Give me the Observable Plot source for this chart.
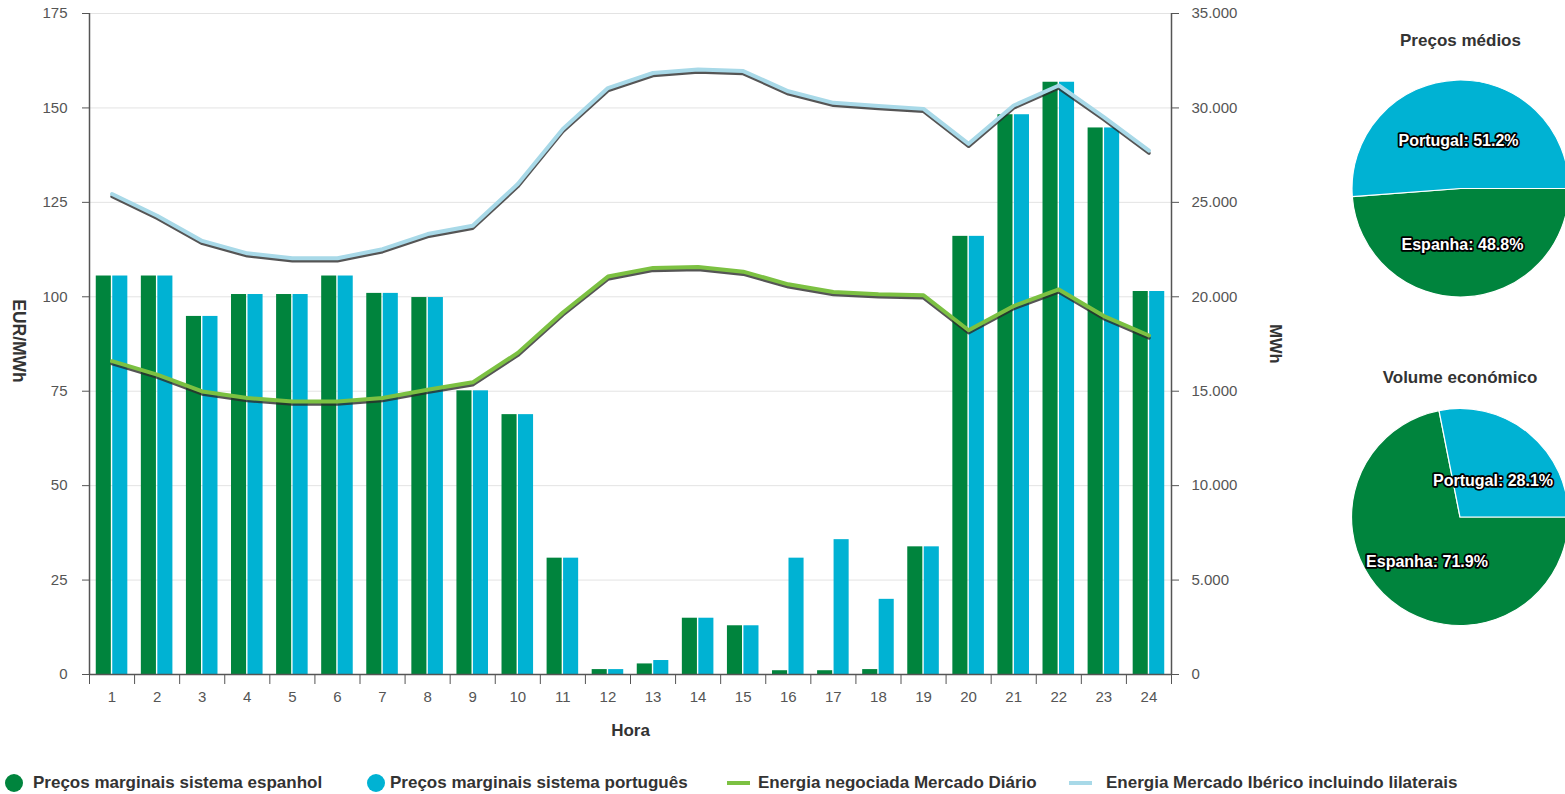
<!DOCTYPE html>
<html><head><meta charset="utf-8">
<script src="https://cdn.jsdelivr.net/npm/d3@7"></script>
<script src="https://cdn.jsdelivr.net/npm/@observablehq/plot@0.6"></script>
<style>
body{margin:0;background:#fff;font-family:"Liberation Sans",Arial,sans-serif;}
#wrap{position:relative;width:1565px;height:794px;overflow:hidden;background:#fff;}
#main{position:absolute;left:0;top:0;}
#pies{position:absolute;left:1300px;top:0;}
#legend{position:absolute;left:0;top:772px;height:22px;width:1565px;font:bold 17px "Liberation Sans",Arial,sans-serif;color:#333;}
.item{position:absolute;top:0;height:22px;display:flex;align-items:center;white-space:nowrap;}
.dot{width:18px;height:18px;border-radius:50%;}
.ln{width:23px;height:4px;}
.item:nth-child(1){left:5px;}
.item:nth-child(1) span{margin-left:10px;}
.item:nth-child(2){left:367px;}
.item:nth-child(2) span{margin-left:5px;}
.item:nth-child(3){left:727px;}
.item:nth-child(3) span{margin-left:8px;}
.item:nth-child(4){left:1069px;}
.item:nth-child(4) span{margin-left:14px;}
</style></head>
<body>
<div id="wrap">
  <div id="main"></div>
  <div id="pies"></div>
  <div id="legend"></div>
</div>
<script>
// ---------- data ----------
const hours = [1,2,3,4,5,6,7,8,9,10,11,12,13,14,15,16,17,18,19,20,21,22,23,24];
const precoEspanha = [105.5,105.5,94.8,100.6,100.6,105.5,100.9,99.8,75.1,68.8,30.8,1.3,2.8,14.9,12.9,1.0,1.0,1.3,33.8,116.0,148.2,156.8,144.7,101.4];
const precoPortugal = [105.5,105.5,94.8,100.6,100.6,105.5,100.9,99.8,75.1,68.8,30.8,1.3,3.7,14.9,12.9,30.8,35.7,19.9,33.8,116.0,148.2,156.8,144.7,101.4];
const energiaDiario = [16590,15880,14990,14640,14460,14460,14640,15080,15470,17030,19170,21070,21530,21580,21330,20660,20250,20130,20080,18230,19510,20390,18980,17950];
const energiaIberico = [25440,24290,22960,22300,22040,22040,22520,23320,23760,25970,28890,31050,31850,32040,31950,30880,30270,30100,29950,28100,30130,31190,29510,27740];
const leftTicks = [0,25,50,75,100,125,150,175];
const rightMax = 35000;
const leftMax = 175;

const pieCategories = ["Espanha","Portugal"];
const precosMedios = [48.8, 51.2];
const volumeEconomico = [71.9, 28.1];

const seriesNames = ["Preços marginais sistema espanhol","Preços marginais sistema português","Energia negociada Mercado Diário","Energia Mercado Ibérico incluindo lilaterais"];
const seriesColors = ["#00843d","#00b2d3","#7cc142","#a8d9e8"];
const seriesKinds = ["dot","dot","ln","ln"];

// ---------- main chart ----------
const K = rightMax/leftMax;
const rows = hours.map((h,i)=>({hora:h, es:precoEspanha[i], pt:precoPortugal[i], diario:energiaDiario[i]/K, iberico:energiaIberico[i]/K}));
const half = 0.35;
const bandEdges = hours.map(h=>h-0.5).concat([hours[hours.length-1]+0.5]);
const fmtDot = v => d3.format(",")(v).replace(/,/g,".");
const FONT = "'Liberation Sans', Arial, sans-serif";

const main = Plot.plot({
  width:1300, height:750,
  marginLeft:89, marginRight:129, marginTop:13, marginBottom:76,
  style:{fontFamily:FONT, fontSize:"15px", color:"#555", background:"transparent", overflow:"visible"},
  x:{type:"linear", domain:[0.5,24.5]},
  y:{domain:[0,175]},
  marks:[
    Plot.gridY(leftTicks.slice(1), {stroke:"#e3e3e3", strokeOpacity:1}),
    Plot.rect(rows, {x1:d=>d.hora-half, x2:"hora", y1:0, y2:"es", fill:seriesColors[0], insetRight:0.7}),
    Plot.rect(rows, {x1:"hora", x2:d=>d.hora+half, y1:0, y2:"pt", fill:seriesColors[1], insetLeft:0.7}),
    Plot.line(rows, {x:"hora", y:"iberico", stroke:"#2a2a2a", strokeWidth:3.5, dy:2.5, strokeOpacity:0.8}),
    Plot.line(rows, {x:"hora", y:"iberico", stroke:seriesColors[3], strokeWidth:4}),
    Plot.line(rows, {x:"hora", y:"diario", stroke:"#2a2a2a", strokeWidth:3.5, dy:2.5, strokeOpacity:0.8}),
    Plot.line(rows, {x:"hora", y:"diario", stroke:seriesColors[2], strokeWidth:4}),
    Plot.ruleX([0.5], {stroke:"#555", strokeWidth:1.5}),
    Plot.ruleX([24.5], {stroke:"#555", strokeWidth:1.5}),
    Plot.ruleY([0], {stroke:"#555", strokeWidth:1.5}),
    Plot.axisY(leftTicks, {anchor:"left", tickSize:7, tickPadding:15, label:null, stroke:"#555", fill:"#555"}),
    Plot.axisY(leftTicks, {anchor:"right", tickSize:7, tickPadding:13, label:null, stroke:"#555", fill:"#555", tickFormat:d=>fmtDot(d*K)}),
    Plot.axisX(bandEdges, {anchor:"bottom", tickSize:10, label:null, stroke:"#555", tickFormat:()=>""}),
    Plot.axisX(hours, {anchor:"bottom", tickSize:0, tickPadding:17, label:null, fill:"#555"}),
    Plot.text(["EUR/MWh"], {frameAnchor:"left", textAnchor:"middle", lineAnchor:"middle", dx:-71, dy:-3, rotate:90, fontWeight:"bold", fontSize:17.5, fill:"#333"}),
    Plot.text(["MWh"], {frameAnchor:"right", textAnchor:"middle", lineAnchor:"middle", dx:104, rotate:90, fontWeight:"bold", fontSize:16.5, fill:"#333"}),
    Plot.text(["Hora"], {frameAnchor:"bottom", lineAnchor:"middle", dy:56, fontWeight:"bold", fontSize:17, fill:"#333"})
  ]
});
document.getElementById("main").appendChild(main);

// ---------- pies ----------
const pies = [
  {title:"Preços médios", values:precosMedios, cx:160.5, cy:188.5, titleY:40},
  {title:"Volume económico", values:volumeEconomico, cx:160, cy:517, titleY:377}
];
const R = 108.5;
function pieRender(index, scales, values, dimensions, context){
  const g = d3.create("svg:g");
  const pieGen = d3.pie().sort(null).startAngle(Math.PI/2).endAngle(Math.PI/2 + 2*Math.PI);
  const arc = d3.arc().innerRadius(0).outerRadius(R);
  const labelArc = d3.arc().innerRadius(52).outerRadius(52);
  for (const p of pies){
    const arcs = pieGen(p.values);
    const gg = g.append("g").attr("transform",`translate(${p.cx},${p.cy})`);
    gg.selectAll("path").data(arcs).join("path")
      .attr("d", arc).attr("fill",(d,i)=>seriesColors[i]).attr("stroke","#fff").attr("stroke-width",1.2);
    gg.selectAll("text").data(arcs).join("text")
      .attr("transform", d=>{const c = labelArc.centroid(d); return `translate(${c[0]},${c[1]+4})`;})
      .attr("text-anchor","middle").attr("dy","0.35em")
      .attr("font-family",FONT).attr("font-weight","bold").attr("font-size",16)
      .attr("fill","#fff").attr("stroke","#000").attr("stroke-width",3.5).attr("stroke-linejoin","round")
      .attr("paint-order","stroke")
      .text((d,i)=>`${pieCategories[i]}: ${d.data.toFixed(1)}%`);
    g.append("text").attr("x",p.cx).attr("y",p.titleY).attr("dy","0.35em")
      .attr("text-anchor","middle").attr("font-family",FONT).attr("font-weight","bold")
      .attr("font-size",17).attr("fill","#333").text(p.title);
  }
  return g.node();
}
const pieSvg = Plot.plot({
  width:265, height:650, margin:0,
  style:{background:"transparent", overflow:"hidden"},
  marks:[pieRender]
});
document.getElementById("pies").appendChild(pieSvg);

// ---------- legend ----------
const legend = d3.select("#legend");
seriesNames.forEach((name,i)=>{
  const it = legend.append("div").attr("class","item");
  it.append("div").attr("class", seriesKinds[i]).style("background", seriesColors[i]);
  it.append("span").text(name);
});
</script>
</body></html>
